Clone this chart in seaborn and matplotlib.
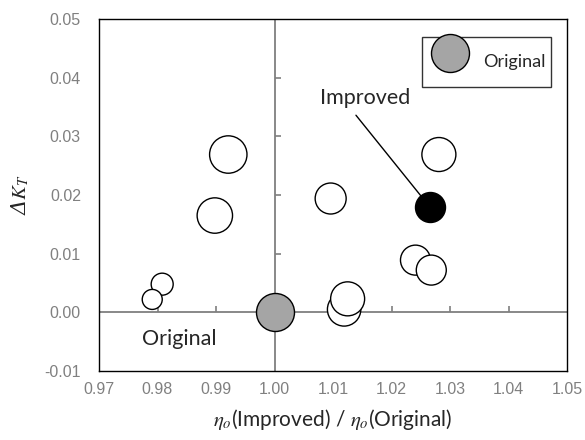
import numpy as np
import pandas as pd
import matplotlib
matplotlib.use("Agg")
import matplotlib.pyplot as plt
import seaborn as sns

# Efficiency ratio vs. thrust-coefficient change for candidate designs
eta_ratio = [0.9808, 0.9791, 0.9898, 0.9921, 1.0096, 1.0119, 1.0125, 1.0241, 1.0268, 1.0281]
delta_kt = [0.0048, 0.0022, 0.0165, 0.0269, 0.0194, 0.0005, 0.0023, 0.0089, 0.0072, 0.0269]
bubble_r = [11.0, 10.0, 17.7, 18.7, 15.5, 16.7, 17.0, 15.0, 15.0, 17.0]

orig_x, orig_y, orig_r = [1.000], [0.000], [19.0]
impr_x, impr_y, impr_r = [1.0266], [0.0179], [15.0]

x_ticks = [0.97, 0.98, 0.99, 1.00, 1.01, 1.02, 1.03, 1.04, 1.05]
y_ticks = [-0.01, 0.00, 0.01, 0.02, 0.03, 0.04, 0.05]

DPI = 100


def area(r_px):
    # marker area in pt^2 from a radius in pixels
    d_pt = 2 * np.asarray(r_px, dtype=float) * 72.0 / DPI
    return d_pt ** 2


sns.set_style("white")
plt.rcParams["mathtext.fontset"] = "stix"

fig = plt.figure(figsize=(5.85, 4.4), dpi=DPI)
ax = fig.add_axes([99 / 585, 69 / 440, 468 / 585, 352 / 440])

gray_axis = "#7f7f7f"
ax.axhline(0, color=gray_axis, lw=1.3, zorder=1)
ax.axvline(1.0, color=gray_axis, lw=1.3, zorder=1)
# tick marks on the zero lines
xt_inner = [t for t in x_ticks if t not in (0.97, 1.00, 1.05)]
yt_inner = [t for t in y_ticks if t not in (-0.01, 0.00, 0.05)]
ax.plot(xt_inner, [0] * len(xt_inner), ls="none", marker=2, ms=4,
        mew=1.2, color=gray_axis, zorder=1)
ax.plot([1.0] * len(yt_inner), yt_inner, ls="none", marker=1, ms=4,
        mew=1.2, color=gray_axis, zorder=1)

df = pd.DataFrame({"x": eta_ratio, "y": delta_kt, "s": area(bubble_r)})
smin, smax = df["s"].min(), df["s"].max()
sns.scatterplot(data=df, x="x", y="y", size="s", sizes=(smin, smax),
                size_norm=(smin, smax), color="white", edgecolor="black",
                linewidth=1.0, legend=False, ax=ax, zorder=3)

ax.scatter(orig_x, orig_y, s=area(orig_r), color="#a5a5a5",
           edgecolor="black", linewidth=1.0, zorder=4, label="Original")
ax.scatter(impr_x, impr_y, s=area(impr_r), color="black",
           edgecolor="black", linewidth=1.0, zorder=4)

txt_font = ["Lato", "DejaVu Sans"]
ax.annotate("Improved", xy=(impr_x[0], impr_y[0]), xytext=(1.0155, 0.0366),
            ha="center", va="center", fontsize=15.5, family=txt_font,
            arrowprops=dict(arrowstyle="-", color="black", lw=1.0,
                            relpos=(0.33, 0.0), shrinkA=4, shrinkB=10.5))
ax.text(0.9838, -0.0046, "Original", ha="center", va="center",
        fontsize=15.5, family=txt_font)

ax.set_xlim(0.97, 1.05)
ax.set_ylim(-0.01, 0.05)
ax.set_xticks(x_ticks)
ax.set_yticks(y_ticks)
ax.set_xticklabels([f"{t:.2f}" for t in x_ticks])
ax.set_yticklabels([f"{t:.2f}" for t in y_ticks])
ax.tick_params(axis="both", length=0, labelcolor="#808080", labelsize=11.5,
               labelfontfamily="Liberation Sans")
ax.tick_params(axis="x", pad=8)
ax.tick_params(axis="y", pad=13)
for sp in ax.spines.values():
    sp.set_visible(True)
    sp.set_color("black")
    sp.set_linewidth(1.0)

ax.set_xlabel(r"$\eta_o$(Improved) / $\eta_o$(Original)", fontsize=15,
              family=txt_font, labelpad=7)
ax.set_ylabel(r"Δ$K_T$", fontsize=15, family="DejaVu Serif",
              fontstyle="italic", labelpad=10)

leg = ax.legend(loc="upper right", bbox_to_anchor=(0.966, 0.949),
                frameon=True, fancybox=False, edgecolor="black",
                prop={"family": txt_font, "size": 13}, handlelength=2.5,
                handleheight=3.0, handletextpad=0.6, borderpad=0.3,
                borderaxespad=0, scatterpoints=1)
leg.get_frame().set_linewidth(1.0)

fig.savefig("out.png", dpi=DPI)
